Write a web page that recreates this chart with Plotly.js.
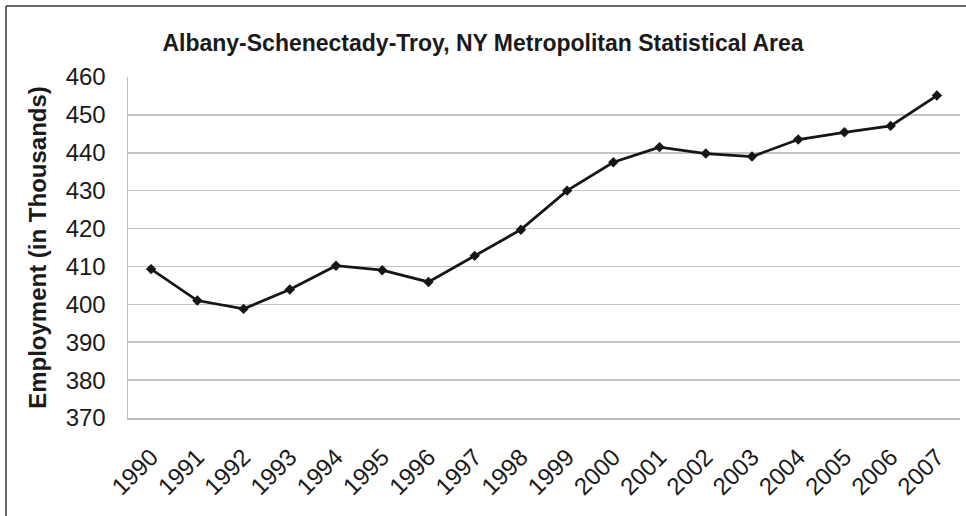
<!DOCTYPE html>
<html>
<head>
<meta charset="utf-8">
<script src="https://cdn.plot.ly/plotly-3.0.1.min.js"></script>
<style>html,body{margin:0;padding:0;background:#fff;}#chart{width:966px;height:516px;}</style>
</head>
<body>
<div id="chart"></div>
<script>
const years = ["1990","1991","1992","1993","1994","1995","1996","1997","1998","1999","2000","2001","2002","2003","2004","2005","2006","2007"];
const employment = [409.3, 401.0, 398.8, 403.9, 410.2, 409.0, 405.9, 412.8, 419.7, 430.0, 437.5, 441.5, 439.8, 439.0, 443.5, 445.4, 447.1, 455.1];
const yTicks = [370, 380, 390, 400, 410, 420, 430, 440, 450, 460];
const chartTitle = "Albany-Schenectady-Troy, NY Metropolitan Statistical Area";
const yTitle = "Employment (in Thousands)";

const W = 966, H = 516;
const L = 128, R = 960, T = 77, B = 418;
const font = "Liberation Sans, Arial, sans-serif";

const trace = {
  x: years, y: employment, type: "scatter", mode: "lines+markers",
  line: {color: "#161616", width: 2.8},
  marker: {symbol: "diamond", size: 8, color: "#161616"},
  hoverinfo: "x+y"
};

const layout = {
  width: W, height: H,
  margin: {l: L, r: W - R, t: T, b: H - B, pad: 0},
  paper_bgcolor: "#ffffff", plot_bgcolor: "#ffffff",
  showlegend: false,
  title: {text: "<b>" + chartTitle + "</b>", font: {family: font, size: 23, color: "#1a1a1a"},
          x: 0.5, xref: "container", xanchor: "center", y: 1 - 43 / H, yref: "container", yanchor: "middle"},
  xaxis: {
    type: "category", range: [-0.5, years.length - 0.5],
    tickangle: -45, tickfont: {family: font, size: 24, color: "#1a1a1a"},
    ticklabelstandoff: 14,
    showgrid: false, showline: true, linecolor: "#bdbdbd", linewidth: 1.5,
    ticks: "", zeroline: false, fixedrange: true
  },
  yaxis: {
    range: [370, 460], tickvals: yTicks, ticktext: yTicks.map(String),
    tickfont: {family: font, size: 24, color: "#1a1a1a"},
    ticklabelstandoff: 16,
    showgrid: true, gridcolor: "#c4c4c4", gridwidth: 1.5,
    showline: true, linecolor: "#bdbdbd", linewidth: 1.5,
    ticks: "", zeroline: false, fixedrange: true,
    title: {text: "<b>" + yTitle + "</b>", font: {family: font, size: 24, color: "#1a1a1a"}, standoff: 12}
  },
  shapes: [
    {type: "line", xref: "paper", yref: "paper",
     x0: (6 - L) / (R - L), x1: (W + 10 - L) / (R - L), y0: (B - 6) / (B - T), y1: (B - 6) / (B - T),
     line: {color: "#333", width: 1.5}},
    {type: "line", xref: "paper", yref: "paper",
     x0: (6 - L) / (R - L), x1: (6 - L) / (R - L), y0: (B - 6) / (B - T), y1: (B - H - 10) / (B - T),
     line: {color: "#333", width: 1.5}}
  ]
};

Plotly.newPlot("chart", [trace], layout, {displayModeBar: false, staticPlot: true});
</script>
</body>
</html>
